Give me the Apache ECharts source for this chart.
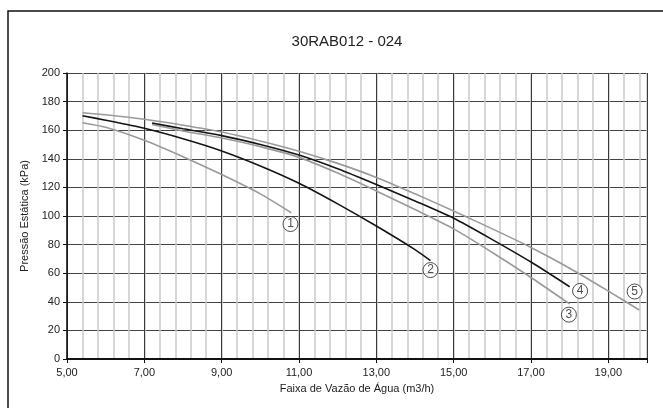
<!DOCTYPE html>
<html>
<head>
<meta charset="utf-8">
<script src="https://cdn.jsdelivr.net/npm/echarts@6/dist/echarts.min.js"></script>
<style>
  html, body { margin: 0; padding: 0; background: #fff; }
  #chart { width: 663px; height: 408px; }
</style>
</head>
<body>
<div id="chart"></div>
<script>
const chartDom = document.getElementById('chart');
const chart = echarts.init(chartDom);

// curves: flow (m3/h) and pressure (kPa)
const flow1 = [5.4, 6, 7, 8, 9, 10, 10.8];
const press1 = [165.2, 162, 153, 141.5, 129, 115.5, 102.3];

const flow2 = [5.4, 6, 7, 8, 9, 10, 11, 12, 13, 14, 14.4];
const press2 = [170.1, 167, 161.3, 154, 145.5, 135, 122.9, 108.5, 93, 76.5, 68.8];

const flow3 = [7.2, 8, 9, 10, 11, 12, 13, 14, 15, 16, 17, 18];
const press3 = [164, 159.5, 154.5, 148.5, 141, 130, 117.5, 104.5, 91, 74.5, 57, 38.5];

const flow4 = [7.2, 8, 9, 10, 11, 12, 13, 14, 15, 16, 17, 18];
const press4 = [165, 161, 156.2, 150, 142.6, 133, 122, 110.5, 98.4, 83.5, 67.8, 50.5];

const flow5 = [5.4, 6, 7, 8, 9, 10, 11, 12, 13, 14, 15, 16, 17, 18, 19, 19.8];
const press5 = [172.2, 170.8, 167.6, 163.5, 158.8, 152.5, 145.3, 136.8, 127, 115.5, 103.5, 91, 78, 63.5, 47.5, 34.3];

// circled curve numbers
const tagNames = ['1', '2', '3', '4', '5'];
const tagFlow = [10.78, 14.4, 17.98, 18.27, 19.68];
const tagPress = [94.4, 62.2, 31, 47.6, 47.2];

const xMin = 5, xMax = 20, xStep = 2, xMinorStep = 0.4;
const yMin = 0, yMax = 200, yStep = 20;

const font = 'Liberation Sans, Arial, Helvetica, sans-serif';

const pairs = (xs, ys) => xs.map((x, i) => [x, ys[i]]);

const curve = (name, xs, ys, color) => ({
    name: name,
    type: 'line',
    xAxisIndex: 1,
    data: pairs(xs, ys),
    smooth: 0.25,
    showSymbol: false,
    lineStyle: { color: color, width: 1.6 },
    z: 3
});

const option = {
    animation: false,
    backgroundColor: '#fff',
    graphic: [{
        type: 'rect',
        shape: { x: 8, y: 11, width: 700, height: 450 },
        style: { fill: 'none', stroke: '#111', lineWidth: 1.5 },
        silent: true
    }],
    title: {
        text: '30RAB012 - 024',
        left: 342,
        top: 29,
        textAlign: 'center',
        textStyle: { fontFamily: font, fontSize: 15, fontWeight: 'normal', color: '#222' }
    },
    grid: { left: 67, right: 16, top: 73, bottom: 49 },
    xAxis: [{
        // fine vertical grid only
        type: 'value',
        position: 'bottom',
        min: xMin, max: xMax, interval: xMinorStep,
        axisLine: { show: false },
        axisTick: { show: false },
        axisLabel: { show: false },
        splitLine: { lineStyle: { color: '#cacaca', width: 1.5 } }
    }, {
        type: 'value',
        position: 'bottom',
        min: xMin, max: xMax, interval: xStep,
        name: 'Faixa de Vazão de Água (m3/h)',
        nameLocation: 'middle',
        nameGap: 24,
        nameTextStyle: { fontFamily: font, fontSize: 11, color: '#222' },
        axisLine: { onZero: false, lineStyle: { color: '#111', width: 2 } },
        axisTick: { show: true, length: 4, lineStyle: { color: '#111' } },
        axisLabel: {
            fontFamily: font, fontSize: 11, color: '#222', margin: 8,
            formatter: v => (v === xMax ? '' : v.toFixed(2).replace('.', ','))
        },
        splitLine: { show: true, lineStyle: { color: '#3a3a3a', width: 1 } }
    }],
    yAxis: {
        type: 'value',
        min: yMin, max: yMax, interval: yStep,
        name: 'Pressão Estática (kPa)',
        nameLocation: 'middle',
        nameGap: 36,
        nameTextStyle: { fontFamily: font, fontSize: 11, color: '#222' },
        axisLine: { show: true, lineStyle: { color: '#111', width: 1.5 } },
        axisTick: { show: true, length: 4, lineStyle: { color: '#111' } },
        axisLabel: { fontFamily: font, fontSize: 11, color: '#222', margin: 7 },
        splitLine: { show: true, lineStyle: { color: '#444', width: 1 } }
    },
    series: [
        curve('1', flow1, press1, '#9a9a9a'),
        curve('3', flow3, press3, '#9a9a9a'),
        curve('5', flow5, press5, '#9a9a9a'),
        curve('2', flow2, press2, '#151515'),
        curve('4', flow4, press4, '#151515'),
        {
            name: 'tags',
            type: 'scatter',
            xAxisIndex: 1,
            data: tagNames.map((n, i) => ({ name: n, value: [tagFlow[i], tagPress[i]] })),
            symbol: 'circle',
            symbolSize: 15,
            itemStyle: { color: '#fff', borderColor: '#222', borderWidth: 1 },
            label: {
                show: true, position: 'inside', formatter: p => p.name,
                fontFamily: font, fontSize: 12, color: '#222'
            },
            z: 5
        }
    ]
};

option && chart.setOption(option);
</script>
</body>
</html>
